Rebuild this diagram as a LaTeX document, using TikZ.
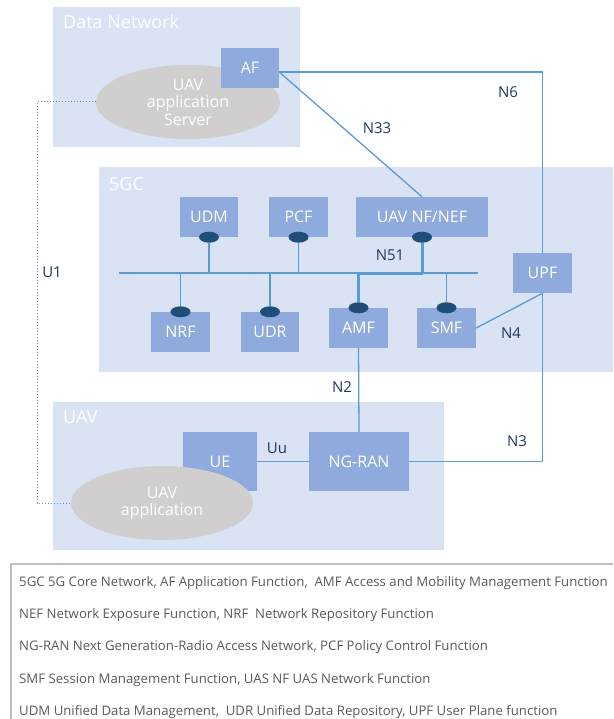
\documentclass[tikz,border=0pt]{standalone}
\usepackage{fontspec}
\setmainfont{Open Sans}
\usetikzlibrary{shapes.geometric}
\definecolor{regionblue}{HTML}{DAE3F3}
\definecolor{nfblue}{HTML}{8FAADC}
\definecolor{portblue}{HTML}{1F4E79}
\definecolor{linkblue}{HTML}{5B9BD5}
\definecolor{appgrey}{HTML}{D0CECE}
\definecolor{lblnavy}{HTML}{1F3864}
\definecolor{leggrey}{HTML}{595959}
\definecolor{legline}{HTML}{BFBFBF}
\tikzset{
  region/.style={fill=regionblue, inner sep=0pt},
  regtitle/.style={anchor=west, text=white, inner sep=0pt, font=\fontsize{18}{20}\selectfont},
  nf/.style={fill=nfblue, text=white, inner sep=0pt, font=\fontsize{16}{18}\selectfont},
  port/.style={ellipse, fill=portblue, minimum width=20pt, minimum height=11pt, inner sep=0pt},
  app/.style={ellipse, fill=appgrey, text=white, align=center, inner sep=0pt, font=\fontsize{16}{17.5}\selectfont},
  link/.style={draw=linkblue, line width=1.3pt},
  iface/.style={text=lblnavy, inner sep=0pt, font=\fontsize{15}{17}\selectfont},
  legtext/.style={anchor=west, text=leggrey, inner sep=0pt, font=\fontsize{13.2}{15}\selectfont}
}
\begin{document}
\begin{tikzpicture}[x=1pt, y=-1pt, line join=round]
	\useasboundingbox (0,0) rectangle (613,719);
	% vùng
	\node[region, minimum width=247pt, minimum height=140pt] (dn) at (176.5,77) {};
	\node[region, minimum width=514pt, minimum height=205pt] (core) at (356,269.5) {};
	\node[region, minimum width=391pt, minimum height=148pt] (uav) at (248.5,476) {};
	\node[regtitle] (dntitle) at (63,22) {Data Network};
	\node[regtitle] (coretitle) at (109,184) {5GC};
	\node[regtitle] (uavtitle) at (63,417) {UAV};
	% Data Network
	\node[app, minimum width=184pt, minimum height=74pt] (server) at (188,102) {UAV\\application\\Server};
	\node[nf, minimum width=58pt, minimum height=40pt] (af) at (250,68) {AF};
	% 5GC
	\node[nf, minimum width=58pt, minimum height=40pt] (udm) at (209,217) {UDM};
	\node[nf, minimum width=59pt, minimum height=40pt] (pcf) at (298.5,217) {PCF};
	\node[nf, minimum width=132pt, minimum height=40pt] (nef) at (422,217) {UAV NF/NEF};
	\node[nf, minimum width=59pt, minimum height=40pt] (upf) at (542.5,273) {UPF};
	\node[nf, minimum width=59pt, minimum height=40pt] (nrf) at (180.5,332) {NRF};
	\node[nf, minimum width=58pt, minimum height=40pt] (udr) at (270,332) {UDR};
	\node[nf, minimum width=59pt, minimum height=40pt] (amf) at (358.5,328) {AMF};
	\node[nf, minimum width=59pt, minimum height=40pt] (smf) at (446.5,328) {SMF};
	\node[port] (udmport) at (udm.south) {};
	\node[port] (pcfport) at (pcf.south) {};
	\node[port] (nefport) at (nef.south) {};
	\node[port] (nrfport) at (nrf.north) {};
	\node[port] (udrport) at (udr.north) {};
	\node[port] (amfport) at (amf.north) {};
	\node[port] (smfport) at (smf.north) {};
	\coordinate (busw) at (119,273);
	\coordinate (buse) at (478,273);
	\draw[link] (busw) -- (buse);
	\draw[link] (udmport.south) -- (udmport |- busw);
	\draw[link] (pcfport.south) -- (pcfport |- busw);
	\draw[link] (nrfport.north) -- (nrfport |- busw);
	\draw[link] (udrport.north) -- (udrport |- busw);
	\draw[link] (smfport.north) -- (smfport |- busw);
	\draw[link, line width=3pt] (nefport.south) -- (nefport |- busw) -| (amfport.north);
	% UAV
	\node[nf, minimum width=74pt, minimum height=59pt] (ue) at (220,461.5) {UE};
	\node[nf, minimum width=100pt, minimum height=59pt] (ngran) at (359,461.5) {NG-RAN};
	\node[app, minimum width=182pt, minimum height=74pt] (app) at (162,503) {UAV\\application};
	% đường nối
	\coordinate (afout) at ([yshift=-4pt]af.east);
	\draw[link] (afout) -| (upf.north);
	\draw[link] (afout) -- (nef.north);
	\draw[link] (smf.east) -- (upf.south);
	\draw[link] (amf.south) -- (ngran.north);
	\draw[link] (ue.east) -- (ngran.west);
	\draw[link] (ngran.east) -| (upf.south);
	\coordinate (u1top) at (37,102);
	\draw[link, line width=1pt, dotted] (server.west) -- (u1top) |- (app.west);
	\node[iface] (n6) at (508,92) {N6};
	\node[iface] (n33) at (377,128) {N33};
	\node[iface] (n51) at (390,255) {N51};
	\node[iface] (n4) at (511,333) {N4};
	\node[iface] (n2) at (342,387) {N2};
	\node[iface] (n3) at (517,441) {N3};
	\node[iface] (uu) at (277,448) {Uu};
	\node[iface] (u1) at (52,272) {U1};
	% chú thích
	\draw[legline, line width=1.3pt] (613,564) -- (11,564) -- (11,719);
	\foreach \i/\txt in {1/{5GC 5G Core Network, AF Application Function, ~AMF Access and Mobility Management Function},
		2/{NEF Network Exposure Function, NRF ~Network Repository Function},
		3/{NG-RAN Next Generation-Radio Access Network, PCF Policy Control Function},
		4/{SMF Session Management Function, UAS NF UAS Network Function},
		5/{UDM Unified Data Management, ~UDR Unified Data Repository, UPF User Plane function}}
		\node[legtext] (leg\i) at (19,{550.75+32.25*\i}) {\txt};
\end{tikzpicture}
\end{document}
